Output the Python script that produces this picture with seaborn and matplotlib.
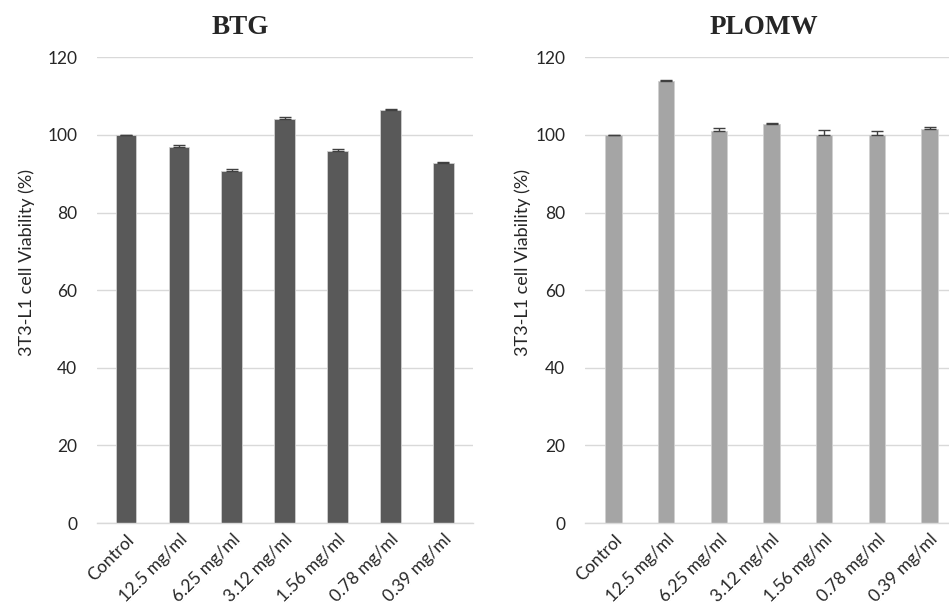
import numpy as np
import pandas as pd
import matplotlib
matplotlib.use("Agg")
import matplotlib.pyplot as plt
import seaborn as sns

concentrations = ["Control", "12.5 mg/ml", "6.25 mg/ml", "3.12 mg/ml",
                  "1.56 mg/ml", "0.78 mg/ml", "0.39 mg/ml"]
btg_viability = [100.0, 96.8, 90.8, 104.0, 95.9, 106.3, 92.8]
btg_err = [0.1, 0.5, 0.35, 0.7, 0.5, 0.3, 0.3]
plomw_viability = [100.0, 113.9, 100.9, 102.7, 100.1, 99.9, 101.6]
plomw_err = [0.1, 0.2, 0.9, 0.3, 1.1, 1.2, 0.5]

sns.set_style("white")
plt.rcParams['font.family'] = ['Lato', 'DejaVu Sans']

fig = plt.figure(figsize=(9.49, 6.09), dpi=100)
ax_left = fig.add_axes([0.102, 0.141, 0.396, 0.765])
ax_right = fig.add_axes([0.616, 0.141, 0.394, 0.765])

# (axes, title, values, errors, bar colour, bar width, title x, ylabel x)
panels = [
    (ax_left, "BTG", btg_viability, btg_err, "#595959", 0.39, 0.2535, -0.165),
    (ax_right, "PLOMW", plomw_viability, plomw_err, "#a5a5a5", 0.31, 0.805, -0.144),
]

for ax, title, vals, errs, color, width, tx, lx in panels:
    df = pd.DataFrame({"conc": concentrations, "viability": vals})
    sns.barplot(data=df, x="conc", y="viability", color=color, width=width,
                errorbar=None, saturation=1, edgecolor="#d0d0d0", linewidth=0.6,
                ax=ax, zorder=2)
    xs = np.arange(len(concentrations))
    ax.errorbar(xs, vals, yerr=[np.zeros(len(errs)), errs], fmt="none",
                ecolor="#404040", elinewidth=1, capsize=4, capthick=1, zorder=3)
    ax.set_ylim(0, 120)
    ax.set_yticks(range(0, 121, 20))
    ax.yaxis.grid(True, color="#d9d9d9", linewidth=1, zorder=0)
    ax.set_axisbelow(True)
    for side in ["top", "right", "left"]:
        ax.spines[side].set_visible(False)
    ax.spines["bottom"].set_color("#d9d9d9")
    ax.spines["bottom"].set_linewidth(1)
    ax.tick_params(axis="y", length=0, labelsize=12.5, colors="#262626", pad=14)
    ax.set_xticks(xs)
    ax.set_xticklabels(concentrations, rotation=45, ha="right",
                       rotation_mode="anchor", fontsize=12.5, color="#262626")
    ax.tick_params(axis="x", length=0, pad=6)
    ax.set_xlabel("")
    ax.set_ylabel("3T3-L1 cell Viability (%)", fontsize=13, color="#262626")
    ax.yaxis.set_label_coords(lx, 0.56)
    ax.set_xlim(-0.55, len(concentrations) - 0.45)
    fig.text(tx, 1 - 34 / 609, title, ha="center", va="baseline",
             fontsize=19.5, fontweight="bold",
             family=["Liberation Serif", "DejaVu Serif"])

fig.savefig("out.png", dpi=100)
